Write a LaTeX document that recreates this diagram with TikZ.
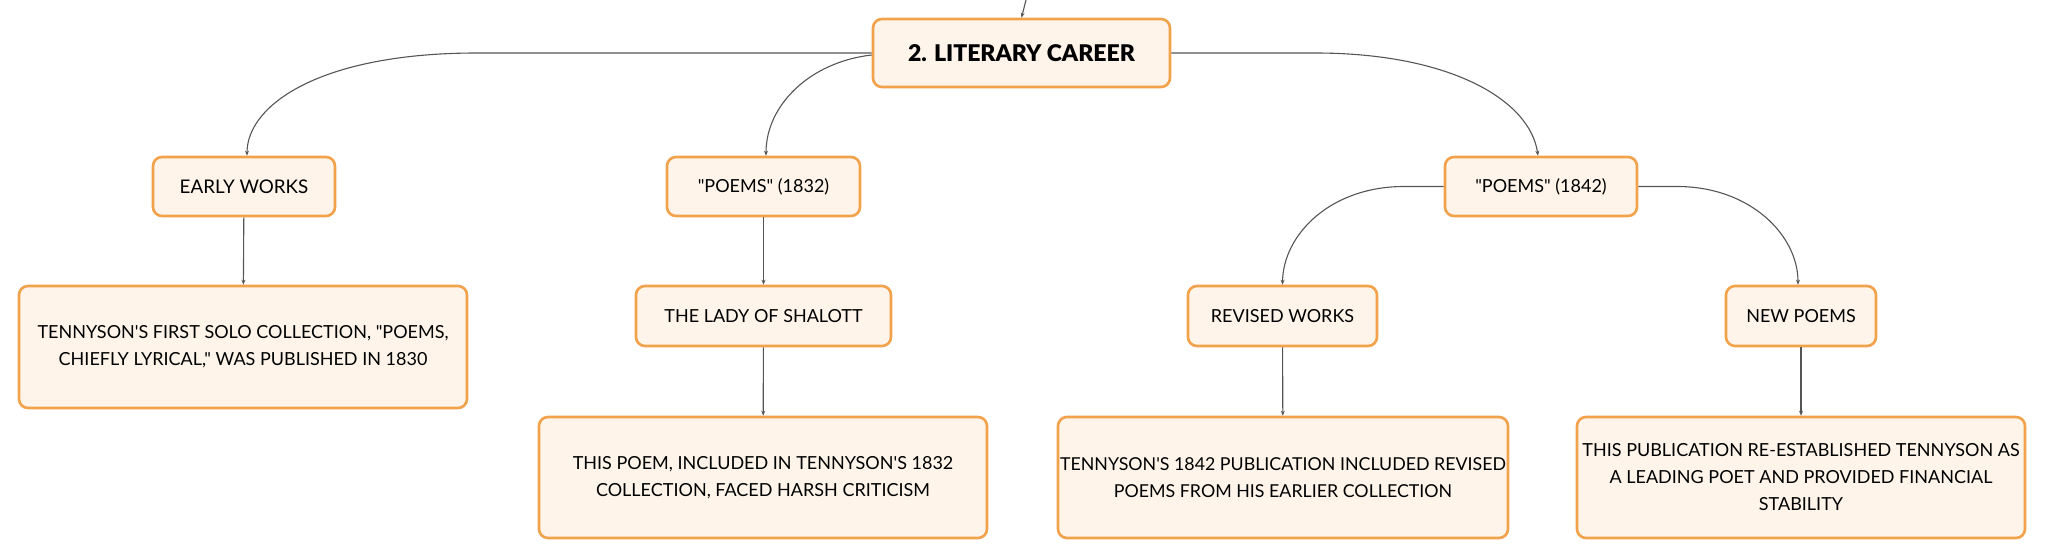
\documentclass[tikz,border=0pt]{standalone}
\usepackage{fontspec}
\setmainfont{Lato}[Ligatures=TeXOff]
\newfontfamily\titlefont{Lato Black}[Ligatures=TeXOff]
\usetikzlibrary{arrows.meta}
\definecolor{boxline}{HTML}{F2A24B}
\definecolor{boxfill}{HTML}{FEF4EA}
\definecolor{linkc}{HTML}{555555}
\tikzset{
  box/.style={draw=boxline, fill=boxfill, line width=2.6bp, rounded corners=9bp,
    align=center, inner sep=0pt, font=\fontsize{18bp}{27bp}\selectfont, text=black},
  link/.style={draw=linkc, line width=1.1bp, -{Stealth[length=5bp,width=4bp]}},
}
\begin{document}
\begin{tikzpicture}[x=1bp,y=-1bp]
\useasboundingbox (0,0) rectangle (2046,559);
% nodes
\node[box, minimum width=297bp, minimum height=68bp, font=\fontsize{23bp}{26bp}\titlefont] (root) at (1021.5,53) {2. LITERARY CAREER};
\node[box, minimum width=182bp, minimum height=59bp, font=\fontsize{18.8bp}{27bp}\selectfont] (ew) at (244,186.5) {EARLY WORKS};
\node[box, minimum width=193bp, minimum height=59bp] (p32) at (763.5,186.5) {"POEMS" (1832)};
\node[box, minimum width=192bp, minimum height=59bp] (p42) at (1541,186.5) {"POEMS" (1842)};
\node[box, minimum width=448bp, minimum height=122bp] (t1) at (243,347) {TENNYSON'S FIRST SOLO COLLECTION, "POEMS,\\ CHIEFLY LYRICAL," WAS PUBLISHED IN 1830};
\node[box, minimum width=255bp, minimum height=60bp] (lady) at (763.5,316) {THE LADY OF SHALOTT};
\node[box, minimum width=448bp, minimum height=121bp] (tp) at (763,477.5) {THIS POEM, INCLUDED IN TENNYSON'S 1832\\ COLLECTION, FACED HARSH CRITICISM};
\node[box, minimum width=189bp, minimum height=60bp] (rev) at (1282.5,316) {REVISED WORKS};
\node[box, minimum width=150bp, minimum height=60bp] (new) at (1801,316) {NEW POEMS};
\node[box, minimum width=450bp, minimum height=121bp, font=\fontsize{17.8bp}{27bp}\selectfont] (t42) at (1283,477.5) {TENNYSON'S 1842 PUBLICATION INCLUDED REVISED\\ POEMS FROM HIS EARLIER COLLECTION};
\node[box, minimum width=448bp, minimum height=121bp] (pub) at (1801,477.5) {THIS PUBLICATION RE-ESTABLISHED TENNYSON AS\\ A LEADING POET AND PROVIDED FINANCIAL\\ STABILITY};
% connectors
\coordinate (top) at (1026,0);
\draw[link] (top) -- (root.north);
\draw[link] (root.west) -- (477,53) .. controls (320,53) and (247,105) .. (ew.north -| 247,0);
\draw[link] ([yshift=-2bp]root.west) .. controls (810,62) and (766,105) .. (p32.north -| 766,0);
\draw[link] (root.east) -- (1315,53) .. controls (1450,53) and (1530,100) .. (p42.north -| 1538,0);
\draw[link] (p42.west) -- (1404,186.5) .. controls (1330,186.5) and (1283,235) .. (rev.north);
\draw[link] (p42.east) -- (1677,186.5) .. controls (1750,186.5) and (1798,235) .. (new.north -| 1798,0);
\draw[link] (ew) -- (t1);
\draw[link] (p32) -- (lady);
\draw[link] (lady) -- (tp);
\draw[link] (rev) -- (t42);
\draw[link] (new) -- (pub);
\end{tikzpicture}
\end{document}
